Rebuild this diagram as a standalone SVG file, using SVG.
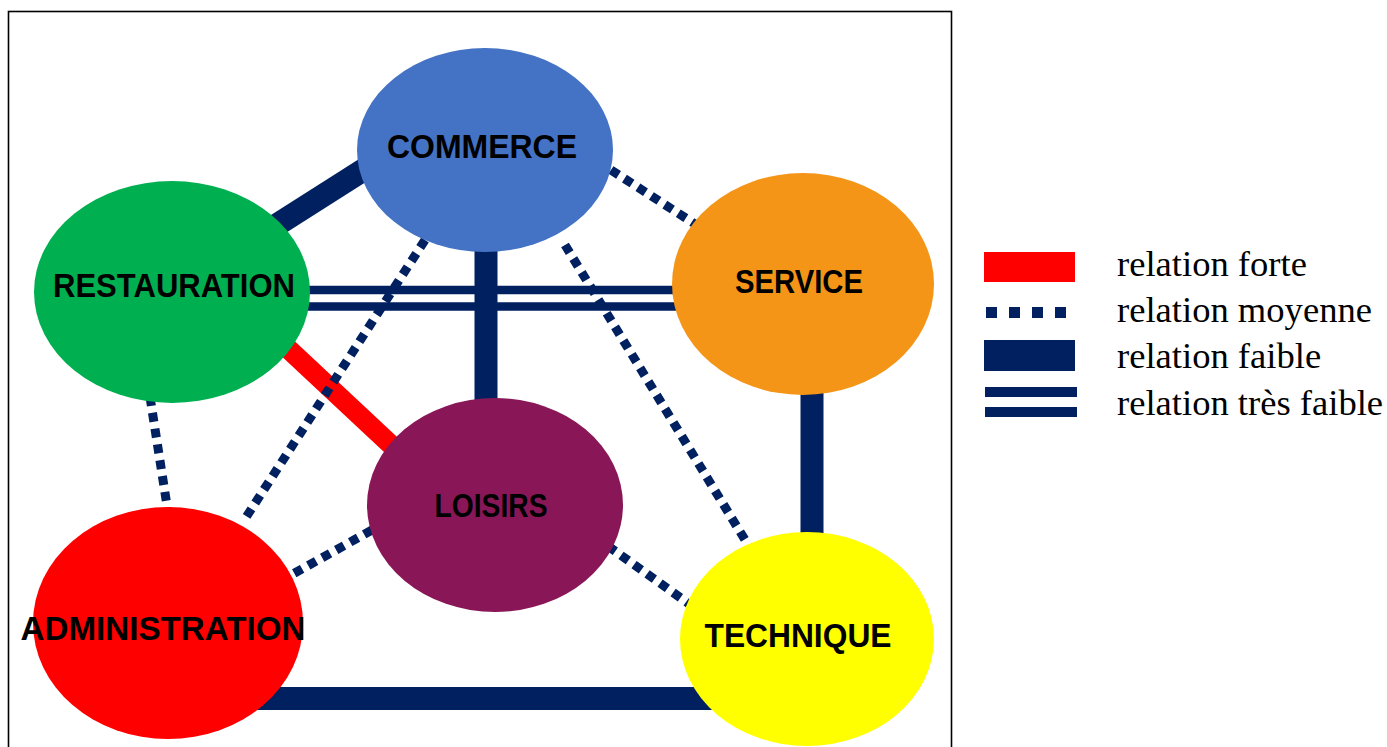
<svg xmlns="http://www.w3.org/2000/svg" width="1387" height="747" viewBox="0 0 1387 747">
<style>
.lbl{font-family:"Liberation Sans",Arial,sans-serif;font-weight:bold;font-size:33px;fill:#000;text-anchor:middle}
.leg{font-family:"Liberation Serif","Times New Roman",serif;font-size:36.6px;fill:#000}
.weak{stroke:#002060;stroke-width:23;fill:none}
.strong{stroke:#FF0000;stroke-width:20;fill:none}
.mid{stroke:#002060;stroke-width:9;stroke-dasharray:9 7;fill:none}
.vweak{stroke:#002060;stroke-width:8.5;fill:none}
</style>
<rect x="0" y="0" width="1387" height="747" fill="#fff"/>
<rect x="8.5" y="11.5" width="943" height="760" fill="none" stroke="#000" stroke-width="1.6"/>
<g id="connectors">
<line class="weak" x1="250" y1="242" x2="390" y2="153"/>
<line class="vweak" x1="300" y1="290" x2="680" y2="290"/>
<line class="vweak" x1="300" y1="306.5" x2="680" y2="306.5"/>
<line class="weak" x1="486" y1="240" x2="486" y2="410"/>
<line class="weak" x1="812" y1="385" x2="812" y2="545"/>
<line class="weak" x1="240" y1="698.5" x2="730" y2="698.5"/>
<line class="strong" x1="250" y1="313" x2="420" y2="472"/>
<line class="mid" x1="611" y1="170" x2="695" y2="224"/>
<line class="mid" x1="425" y1="240" x2="243" y2="522"/>
<line class="mid" x1="565" y1="245" x2="750" y2="548"/>
<line class="mid" x1="150" y1="397" x2="168" y2="512"/>
<line class="mid" x1="372" y1="530" x2="293" y2="574"/>
<line class="mid" x1="608" y1="546" x2="692" y2="606"/>
</g>
<g id="commerce">
<ellipse cx="485" cy="150" rx="128" ry="102" fill="#4472C4"/>
<text class="lbl" x="482" y="158" textLength="190" lengthAdjust="spacingAndGlyphs">COMMERCE</text>
</g>
<g id="restauration">
<ellipse cx="172" cy="292" rx="138" ry="111" fill="#00B050"/>
<text class="lbl" x="174" y="297" textLength="242" lengthAdjust="spacingAndGlyphs">RESTAURATION</text>
</g>
<g id="service">
<ellipse cx="803" cy="284" rx="131" ry="111" fill="#F59518"/>
<text class="lbl" x="799" y="293" textLength="128" lengthAdjust="spacingAndGlyphs">SERVICE</text>
</g>
<g id="loisirs">
<ellipse cx="495" cy="505" rx="128" ry="107" fill="#891758"/>
<text class="lbl" x="491" y="517" textLength="113" lengthAdjust="spacingAndGlyphs">LOISIRS</text>
</g>
<g id="administration">
<ellipse cx="168" cy="623" rx="135" ry="116" fill="#FF0000"/>
<text class="lbl" x="163" y="640" textLength="285" lengthAdjust="spacingAndGlyphs">ADMINISTRATION</text>
</g>
<g id="technique">
<ellipse cx="807" cy="639" rx="127" ry="107" fill="#FFFF00"/>
<text class="lbl" x="798" y="647" textLength="187" lengthAdjust="spacingAndGlyphs">TECHNIQUE</text>
</g>
<g id="legend">
<rect x="984" y="252" width="91" height="30" fill="#FF0000"/>
<line x1="986" y1="312.5" x2="1077" y2="312.5" stroke="#002060" stroke-width="11" stroke-dasharray="11 12"/>
<rect x="984" y="340" width="91" height="31" fill="#002060"/>
<rect x="985" y="387" width="92" height="10" fill="#002060"/>
<rect x="985" y="407" width="92" height="10" fill="#002060"/>
<text class="leg" x="1117" y="276">relation forte</text>
<text class="leg" x="1117" y="322">relation moyenne</text>
<text class="leg" x="1117" y="368">relation faible</text>
<text class="leg" x="1117" y="415">relation très faible</text>
</g>
</svg>
